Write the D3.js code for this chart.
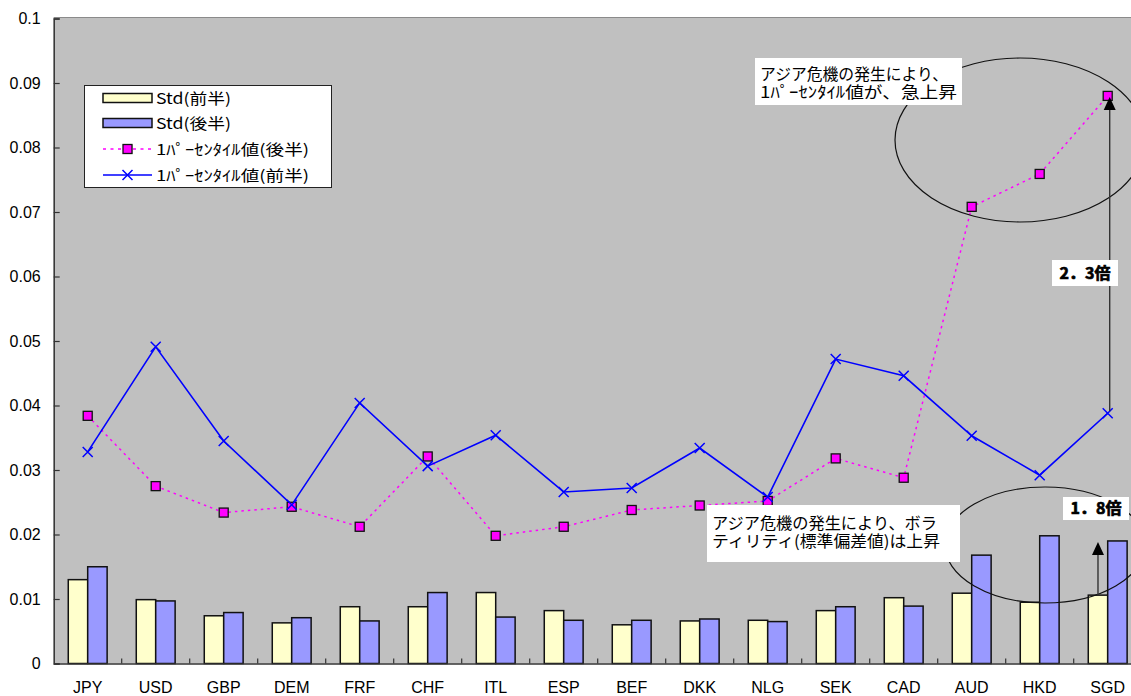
<!DOCTYPE html>
<html>
<head>
<meta charset="utf-8">
<script src="https://cdn.jsdelivr.net/npm/d3@7/dist/d3.min.js"></script>
<style>
  html, body { margin: 0; padding: 0; background: #fff; }
  svg { display: block; }
</style>
</head>
<body>
<svg id="chart" width="1131" height="696"></svg>
<script>
// Currencies on the horizontal axis
const categories = ["JPY","USD","GBP","DEM","FRF","CHF","ITL","ESP","BEF","DKK","NLG","SEK","CAD","AUD","HKD","SGD"];
// Standard deviation, first half / second half
const stdFirst  = [0.0130,0.0099,0.0074,0.0063,0.0088,0.0088,0.0110,0.0082,0.0060,0.0066,0.0067,0.0082,0.0102,0.0109,0.0095,0.0106];
const stdSecond = [0.0150,0.0097,0.0079,0.0071,0.0066,0.0110,0.0072,0.0067,0.0067,0.0069,0.0065,0.0088,0.0089,0.0168,0.0198,0.0190];
// 1-percentile values, second half / first half
const pctSecond = [0.0384,0.0275,0.0234,0.0243,0.0212,0.0321,0.0198,0.0212,0.0238,0.0245,0.0252,0.0318,0.0288,0.0708,0.0759,0.0880];
const pctFirst  = [0.0328,0.0491,0.0345,0.0246,0.0404,0.0306,0.0354,0.0266,0.0272,0.0334,0.0258,0.0472,0.0446,0.0353,0.0292,0.0388];
// Axis tick values
const yTicks = [0,0.01,0.02,0.03,0.04,0.05,0.06,0.07,0.08,0.09,0.1];
const legendLabels = ["Std(前半)","Std(後半)","1ﾊﾟｰｾﾝﾀｲﾙ値(後半)","1ﾊﾟｰｾﾝﾀｲﾙ値(前半)"];
const legendWidths = [75, 75, 153, 153];

const svg = d3.select("#chart");
const plot = {left: 53.7, right: 1141.7, top: 18.5, bottom: 663.5};

const x = d3.scaleBand().domain(categories).range([plot.left, plot.right]).padding(0);
const y = d3.scaleLinear().domain([0, 0.1]).range([plot.bottom, plot.top]);
const bw = x.bandwidth() / 3.5;
const cx = c => x(c) + x.bandwidth() / 2;

const latin = "'Liberation Sans', Arial, sans-serif";
const jp = "'Noto Sans CJK JP', sans-serif";

// plot background
svg.append("rect")
  .attr("x", plot.left).attr("y", plot.top - 1)
  .attr("width", plot.right - plot.left).attr("height", plot.bottom - plot.top + 1)
  .attr("fill", "#c0c0c0");
svg.append("line")
  .attr("x1", plot.left).attr("x2", plot.right)
  .attr("y1", plot.top - 1).attr("y2", plot.top - 1)
  .attr("stroke", "#8a8a8a").attr("stroke-width", 1);

// bars
const bars = svg.append("g");
bars.selectAll("rect.first").data(categories).join("rect")
  .attr("x", (c) => cx(c) - bw)
  .attr("y", (c, i) => y(stdFirst[i]))
  .attr("width", bw)
  .attr("height", (c, i) => y(0) - y(stdFirst[i]))
  .attr("fill", "#ffffcc").attr("stroke", "#111").attr("stroke-width", 1.5);
bars.selectAll("rect.second").data(categories).join("rect")
  .attr("x", (c) => cx(c))
  .attr("y", (c, i) => y(stdSecond[i]))
  .attr("width", bw)
  .attr("height", (c, i) => y(0) - y(stdSecond[i]))
  .attr("fill", "#9999ff").attr("stroke", "#111").attr("stroke-width", 1.5);

// axes
const yAxis = d3.axisLeft(y).tickValues(yTicks).tickSize(-6).tickPadding(19)
  .tickFormat(d => d === 0 ? "0" : String(+d.toFixed(2)));
const gy = svg.append("g").attr("transform", `translate(${plot.left},0)`).call(yAxis);
gy.select(".domain").attr("stroke", "#333").attr("stroke-width", 1.5);
gy.selectAll(".tick line").attr("stroke", "#333").attr("stroke-width", 1.2);
gy.selectAll("text").attr("font-family", latin).attr("font-size", 16).attr("fill", "#000")
  .attr("x", -13);

const xAxis = d3.axisBottom(x).tickSize(0).tickPadding(18);
const gx = svg.append("g").attr("transform", `translate(0,${plot.bottom})`).call(xAxis);
gx.select(".domain").attr("stroke", "#333").attr("stroke-width", 1.5);
gx.selectAll("text").attr("font-family", latin).attr("font-size", 16).attr("fill", "#000");
svg.append("g").selectAll("line").data(categories.slice(1)).join("line")
  .attr("x1", c => x(c)).attr("x2", c => x(c))
  .attr("y1", plot.bottom).attr("y2", plot.bottom - 5)
  .attr("stroke", "#333").attr("stroke-width", 1.2);

// percentile lines
const line = d3.line().x((d, i) => cx(categories[i])).y(d => y(d));
svg.append("path").datum(pctSecond).attr("d", line)
  .attr("fill", "none").attr("stroke", "#ff00ff").attr("stroke-width", 1.5)
  .attr("stroke-dasharray", "2.5,4");
svg.append("path").datum(pctFirst).attr("d", line)
  .attr("fill", "none").attr("stroke", "#0000ff").attr("stroke-width", 1.6);

function squareMarker(g, px, py) {
  g.append("rect").attr("x", px - 4).attr("y", py - 4).attr("width", 9).attr("height", 9)
    .attr("fill", "#8a8a8a").attr("opacity", 0.6);
  g.append("rect").attr("x", px - 4.5).attr("y", py - 4.5).attr("width", 9).attr("height", 9)
    .attr("fill", "#ff00ff").attr("stroke", "#111").attr("stroke-width", 1.3);
}
function crossMarker(g, px, py) {
  g.append("path").attr("d", `M${px-5},${py-5}L${px+5},${py+5}M${px-5},${py+5}L${px+5},${py-5}`)
    .attr("stroke", "#0000ff").attr("stroke-width", 1.5).attr("fill", "none");
}
const mk = svg.append("g");
pctSecond.forEach((v, i) => squareMarker(mk, cx(categories[i]), y(v)));
pctFirst.forEach((v, i) => crossMarker(mk, cx(categories[i]), y(v)));

// highlight ellipses
svg.append("ellipse").attr("cx", 1020).attr("cy", 140).attr("rx", 125).attr("ry", 82)
  .attr("fill", "none").attr("stroke", "#111").attr("stroke-width", 1.2);
svg.append("ellipse").attr("cx", 1045).attr("cy", 545).attr("rx", 100).attr("ry", 58)
  .attr("fill", "none").attr("stroke", "#111").attr("stroke-width", 1.2);

// arrows for SGD
const last = categories.length - 1;
function arrow(ax, fromY, tipY) {
  svg.append("line").attr("x1", ax).attr("x2", ax).attr("y1", fromY).attr("y2", tipY + 10)
    .attr("stroke", "#333").attr("stroke-width", 1.4);
  svg.append("path").attr("d", `M${ax},${tipY}L${ax-6},${tipY+13}L${ax+6},${tipY+13}Z`)
    .attr("fill", "#000");
}
arrow(cx(categories[last]) + 2, y(pctFirst[last]) - 2, y(pctSecond[last]) + 1);
arrow(cx(categories[last]) - bw / 2, y(stdFirst[last]), y(stdSecond[last]) + 1);

// text boxes: one text element per box, one tspan per line
function noteBox(bx, by, w, h, lines, opts = {}) {
  const g = svg.append("g");
  g.append("rect").attr("x", bx).attr("y", by).attr("width", w).attr("height", h).attr("fill", "#fff");
  const t = g.append("text")
    .attr("font-family", jp).attr("font-size", opts.size || 16)
    .attr("text-anchor", opts.center ? "middle" : "start")
    .attr("fill", "#000");
  if (opts.bold) t.attr("font-weight", 700).attr("stroke", "#000").attr("stroke-width", 0.7);
  lines.forEach((s, i) => {
    const ts = t.append("tspan")
      .attr("x", opts.center ? bx + w / 2 : bx + 5)
      .attr("y", by + (opts.first || 23) + i * 18)
      .text(s);
    if (opts.widths) ts.attr("textLength", opts.widths[i]).attr("lengthAdjust", "spacingAndGlyphs");
  });
}
noteBox(755, 58, 207, 47, ["アジア危機の発生により、", "1ﾊﾟｰｾﾝﾀｲﾙ値が、急上昇"], {first: 22, widths: [188, 197]});
noteBox(707, 505, 253, 57, ["アジア危機の発生により、ボラ", "ティリティ(標準偏差値)は上昇"], {first: 24, widths: [225, 228]});
noteBox(1052, 260, 66, 26, ["2．3倍"], {center: true, bold: true, size: 16, first: 19});
noteBox(1063, 497, 66, 23, ["1．8倍"], {center: true, bold: true, size: 16, first: 17});

// legend
const lg = svg.append("g");
lg.append("rect").attr("x", 84.5).attr("y", 85.5).attr("width", 247).attr("height", 102)
  .attr("fill", "#fff").attr("stroke", "#222").attr("stroke-width", 1);
const rowY = [98, 123, 149, 175];
lg.append("rect").attr("x", 103).attr("y", rowY[0] - 4.5).attr("width", 49).attr("height", 9)
  .attr("fill", "#ffffcc").attr("stroke", "#111").attr("stroke-width", 1.5);
lg.append("rect").attr("x", 103).attr("y", rowY[1] - 4.5).attr("width", 49).attr("height", 9)
  .attr("fill", "#9999ff").attr("stroke", "#111").attr("stroke-width", 1.5);
lg.append("line").attr("x1", 103).attr("x2", 152).attr("y1", rowY[2]).attr("y2", rowY[2])
  .attr("stroke", "#ff00ff").attr("stroke-width", 1.5).attr("stroke-dasharray", "3,4.5");
squareMarker(lg, 127.5, rowY[2]);
lg.append("line").attr("x1", 103).attr("x2", 152).attr("y1", rowY[3]).attr("y2", rowY[3])
  .attr("stroke", "#0000ff").attr("stroke-width", 1.5);
crossMarker(lg, 127.5, rowY[3]);
legendLabels.forEach((t, i) => {
  lg.append("text").attr("x", 156).attr("y", rowY[i] + 5.5)
    .attr("font-family", jp).attr("font-size", 15).attr("fill", "#000")
    .attr("textLength", legendWidths[i]).attr("lengthAdjust", "spacingAndGlyphs")
    .text(t);
});
</script>
</body>
</html>
